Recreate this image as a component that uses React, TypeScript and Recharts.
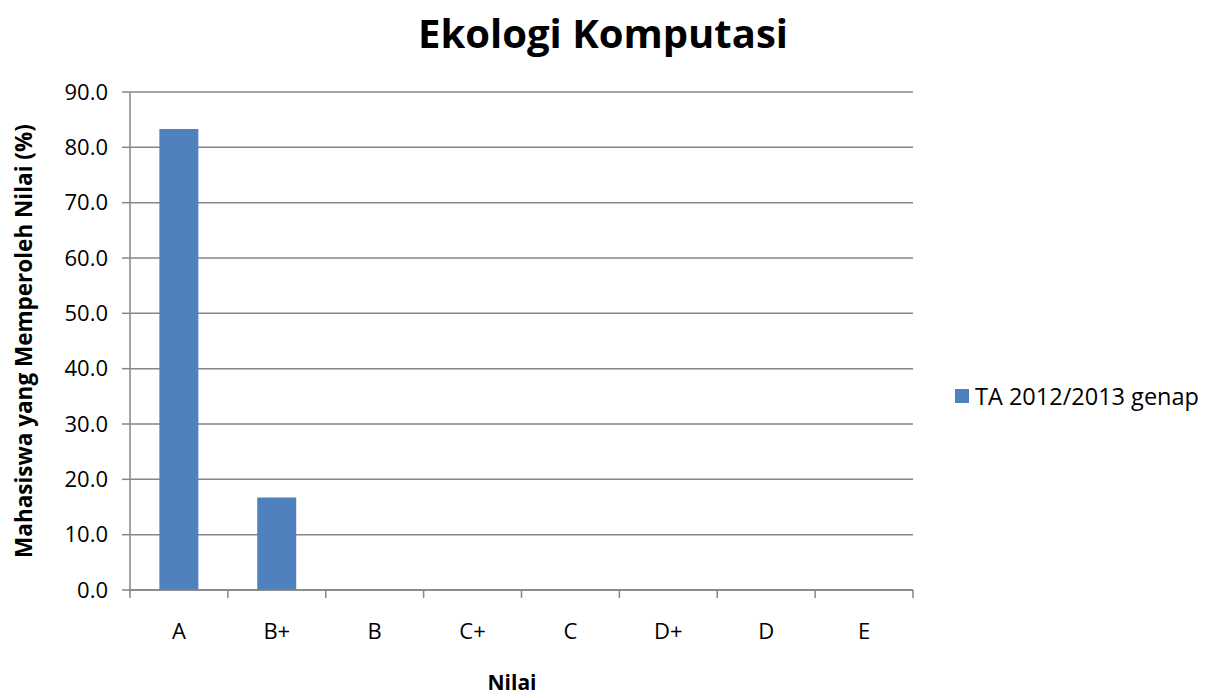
import { BarChart, Bar, XAxis, YAxis, CartesianGrid, Legend } from 'recharts'

// grade distribution, percent of students per grade
const grades = ['A', 'B+', 'B', 'C+', 'C', 'D+', 'D', 'E']
const shares = [83.3, 16.7, 0, 0, 0, 0, 0, 0]
const yTicks = [0, 10, 20, 30, 40, 50, 60, 70, 80, 90]
const seriesName = 'TA 2012/2013 genap'
const title = 'Ekologi Komputasi'
const xTitle = 'Nilai'
const yTitle = 'Mahasiswa yang Memperoleh Nilai (%)'

const data = grades.map((g, i) => ({ grade: g, value: shares[i] }))

const FONT = '"Open Sans", sans-serif'
const AXIS = '#868686'
const BLUE = '#4F81BD'
const W = 1213
const H = 698
const PLOT_LEFT = 130
const PLOT_RIGHT = 913
const BAND = (PLOT_RIGHT - PLOT_LEFT) / grades.length

function GradeTick(props: any) {
  const { x, y, payload, index } = props
  const left = x - BAND / 2
  return (
    <g>
      <line x1={left} x2={left} y1={y - 8} y2={y} stroke={AXIS} strokeWidth={1.5} />
      {index === grades.length - 1 && (
        <line x1={x + BAND / 2} x2={x + BAND / 2} y1={y - 8} y2={y} stroke={AXIS} strokeWidth={1.5} />
      )}
      <text x={x} y={y + 41} textAnchor="middle" fontSize={22} fontFamily={FONT} fill="#000">
        {payload.value}
      </text>
    </g>
  )
}

function LegendBox() {
  return (
    <div style={{ display: 'flex', alignItems: 'center', gap: 6, fontFamily: FONT, fontSize: 23.5, color: '#000', whiteSpace: 'nowrap' }}>
      <span style={{ width: 14, height: 14, background: BLUE, display: 'inline-block' }} />
      <span>{seriesName}</span>
    </div>
  )
}

export default function App() {
  return (
    <div style={{ position: 'absolute', left: 0, top: 0, width: W, height: H, background: '#fff' }}>
      <BarChart width={W} height={H} data={data} margin={{ top: 92, right: W - PLOT_RIGHT, bottom: 0, left: 0 }} barCategoryGap="30%">
        <CartesianGrid vertical={false} stroke={AXIS} strokeWidth={1.5} />
        <XAxis
          dataKey="grade"
          height={108}
          tickSize={8}
          tickMargin={0}
          tickLine={false}
          axisLine={{ stroke: AXIS, strokeWidth: 1.5 }}
          tick={<GradeTick />}
          interval={0}
        />
        <YAxis
          width={PLOT_LEFT}
          domain={[0, 90]}
          ticks={yTicks}
          tickFormatter={(v: number) => v.toFixed(1)}
          tickSize={8}
          tickMargin={14}
          axisLine={{ stroke: AXIS, strokeWidth: 1.5 }}
          tickLine={{ stroke: AXIS, strokeWidth: 1.5 }}
          tick={{ fill: '#000', fontSize: 22, fontFamily: FONT }}
        />
        <Legend
          layout="horizontal"
          align="center"
          verticalAlign="middle"
          wrapperStyle={{ position: 'absolute', left: 955, top: 380, width: 258 }}
          content={<LegendBox />}
        />
        <Bar dataKey="value" name={seriesName} fill={BLUE} isAnimationActive={false} />
        <text x={603} y={48} textAnchor="middle" fontSize={40} fontWeight="bold" fontFamily={FONT} fill="#000">
          {title}
        </text>
        <text x={512} y={690} textAnchor="middle" fontSize={21} fontWeight="bold" fontFamily={FONT} fill="#000">
          {xTitle}
        </text>
        <text
          x={23}
          y={341}
          textAnchor="middle"
          dominantBaseline="central"
          transform="rotate(-90, 23, 341)"
          fontSize={22.5}
          fontWeight="bold"
          fontFamily={FONT}
          fill="#000"
        >
          {yTitle}
        </text>
      </BarChart>
    </div>
  )
}
